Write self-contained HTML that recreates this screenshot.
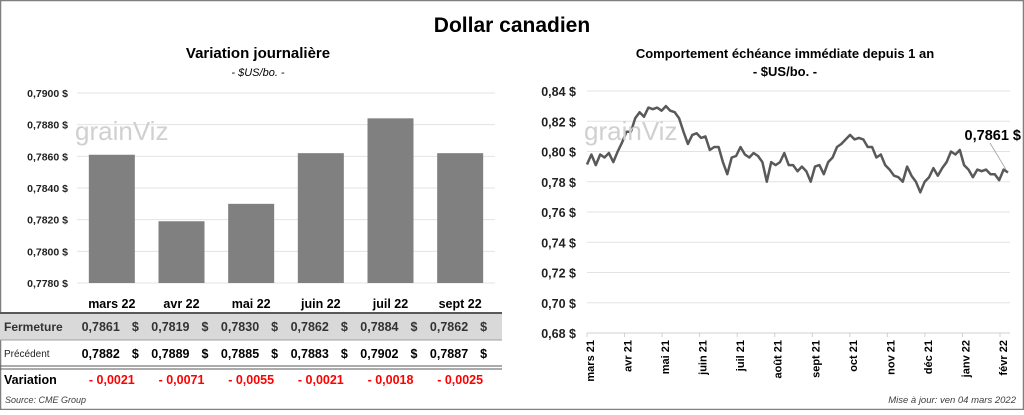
<!DOCTYPE html>
<html><head><meta charset="utf-8">
<style>
html,body{margin:0;padding:0;background:#fff;}
body{width:1024px;height:410px;overflow:hidden;font-family:"Liberation Sans",Arial,sans-serif;}
svg text{font-family:"Liberation Sans",Arial,sans-serif;}
</style></head>
<body>
<svg id="chart" width="1024" height="410" viewBox="0 0 1024 410" xmlns="http://www.w3.org/2000/svg">
<rect x="0.5" y="0.5" width="1023" height="409" fill="#fff" stroke="#7f7f7f" stroke-width="1.5"/>
<text x="512" y="32" text-anchor="middle" font-size="21" font-weight="bold" fill="#000">Dollar canadien</text>

<text x="258" y="58" text-anchor="middle" font-size="15" font-weight="bold">Variation  journalière</text>
<text x="258" y="76" text-anchor="middle" font-size="11" font-style="italic">- $US/bo. -</text>
<text x="785" y="58" text-anchor="middle" font-size="13" font-weight="bold">Comportement échéance immédiate depuis 1 an</text>
<text x="785" y="76" text-anchor="middle" font-size="13" font-weight="bold">- $US/bo. -</text>

<g id="bars"></g>
<g id="line"></g>

<text x="75" y="140" font-size="26" fill="#d0d0d0">grainViz</text>
<text x="584" y="140" font-size="26" fill="#d0d0d0">grainViz</text>

<g id="table"></g>

<text x="5" y="403" font-size="9" font-style="italic" fill="#404040">Source: CME Group</text>
<text x="1016" y="403" text-anchor="end" font-size="9.5" font-style="italic" fill="#404040">Mise à jour: ven 04 mars 2022</text>
</svg>
<script>
const barCategories=["mars 22","avr 22","mai 22","juin 22","juil 22","sept 22"];
const barValues=[0.7861,0.7819,0.7830,0.7862,0.7884,0.7862];
const barTicks=[0.7780,0.7800,0.7820,0.7840,0.7860,0.7880,0.7900];
const closeValues=["0,7861","0,7819","0,7830","0,7862","0,7884","0,7862"];
const prevValues=["0,7882","0,7889","0,7885","0,7883","0,7902","0,7887"];
const changeValues=["- 0,0021","- 0,0071","- 0,0055","- 0,0021","- 0,0018","- 0,0025"];
const lineMonths=["mars 21","avr 21","mai 21","juin 21","juil 21","août 21","sept 21","oct 21","nov 21","déc 21","janv 22","févr 22"];
const lineTicks=[0.68,0.70,0.72,0.74,0.76,0.78,0.80,0.82,0.84];
const lineValues=[0.7914,0.798,0.791,0.798,0.796,0.799,0.793,0.800,0.806,0.813,0.813,0.822,0.826,0.823,0.829,0.828,0.829,0.827,0.830,0.827,0.826,0.822,0.813,0.805,0.811,0.812,0.809,0.810,0.801,0.803,0.803,0.793,0.785,0.796,0.797,0.803,0.798,0.796,0.799,0.797,0.793,0.780,0.793,0.791,0.793,0.799,0.791,0.791,0.787,0.790,0.787,0.780,0.790,0.791,0.785,0.793,0.796,0.803,0.805,0.808,0.811,0.808,0.809,0.808,0.803,0.803,0.796,0.798,0.791,0.788,0.784,0.783,0.780,0.790,0.784,0.780,0.773,0.780,0.783,0.789,0.784,0.789,0.793,0.800,0.798,0.801,0.791,0.788,0.783,0.788,0.787,0.788,0.785,0.785,0.781,0.788,0.7861];
const lastLabel="0,7861 $";

const NS="http://www.w3.org/2000/svg";
function mk(tag,attrs,parent,txt){const e=document.createElementNS(NS,tag);for(const k in attrs)e.setAttribute(k,attrs[k]);if(txt!==undefined)e.textContent=txt;parent.appendChild(e);return e;}

// bar chart
const bg=document.getElementById('bars');
const bx0=77,bx1=495,byTop=93,byBot=283,bMin=0.7780,bMax=0.7900;
const by=v=>byBot-(v-bMin)/(bMax-bMin)*(byBot-byTop);
const bw=(bx1-bx0)/barCategories.length;
barTicks.forEach(t=>{
  const l=mk('line',{x1:bx0,x2:bx1,y1:by(t),y2:by(t),stroke:'#e3e3e3','stroke-width':1},bg);
  
  
  const tx=mk('text',{x:68,y:by(t)+4,'text-anchor':'end','font-size':10.5,'font-weight':'bold',fill:'#222'},bg,t.toFixed(4).replace('.',',')+' $');
  
  
});
barValues.forEach((v,i)=>{
  const cx=bx0+bw*(i+0.5);
  const r=mk('rect',{x:cx-23,y:by(v),width:46,height:byBot-by(v),fill:'#808080'},bg);
  
  
  const t=mk('text',{x:cx,y:308,'text-anchor':'middle','font-size':12.5,'font-weight':'bold'},bg,barCategories[i]);
  
  
});

// table
const tg=document.getElementById('table');
const bgRow=mk('rect',{x:0,y:314,width:502,height:26,fill:'#d9d9d9'},tg);


[[313,2],[366,1],[369,1]].forEach(([y,w])=>{
  const l=mk('line',{x1:0,x2:502,y1:y,y2:y,stroke:'#595959','stroke-width':w},tg);
  
  
});
const l2=mk('line',{x1:0,x2:502,y1:340,y2:340,stroke:'#a0a0a0','stroke-width':1},tg);


const rh=[["Fermeture",331,12,'bold','#333'],["Précédent",357,10,'normal','#222'],["Variation",384,12.5,'bold','#000']];
rh.forEach(r=>{const t=mk('text',{x:4,y:r[1],'font-size':r[2],'font-weight':r[3],fill:r[4]},tg,r[0]);
  
  });
barCategories.forEach((c,i)=>{
  const cx=bx0+bw*(i+0.5);
  const a=mk('text',{x:cx+8,y:331,'text-anchor':'end','font-size':12.5,'font-weight':'bold',fill:'#333'},tg,closeValues[i]);
  
  
  const a2=mk('text',{x:cx+20,y:331,'font-size':12.5,'font-weight':'bold',fill:'#333'},tg,'$');
  
  
  const b=mk('text',{x:cx+8,y:358,'text-anchor':'end','font-size':12.5,'font-weight':'bold',fill:'#000'},tg,prevValues[i]);
  
  
  const b2=mk('text',{x:cx+20,y:358,'font-size':12.5,'font-weight':'bold',fill:'#000'},tg,'$');
  
  
  const d=mk('text',{x:cx,y:384,'text-anchor':'middle','font-size':12.5,'font-weight':'bold',fill:'#ff0000'},tg,changeValues[i]);
  
  
});

// line chart
const lg=document.getElementById('line');
const lx0=587,lx1=1008,lyTop=91,lyBot=333,lMin=0.68,lMax=0.84;
const ly=v=>lyBot-(v-lMin)/(lMax-lMin)*(lyBot-lyTop);
const lx=i=>lx0+i/(lineValues.length-1)*(lx1-lx0);
lineTicks.forEach(t=>{
  if(t>lMin){const l=mk('line',{x1:lx0,x2:1010,y1:ly(t),y2:ly(t),stroke:'#e3e3e3','stroke-width':1},lg);
  
  }
  const tx=mk('text',{x:576,y:ly(t)+5,'text-anchor':'end','font-size':12.5,'font-weight':'bold',fill:'#222'},lg,t.toFixed(2).replace('.',',')+' $');
  
  
});
const ax=mk('line',{x1:lx0,x2:1010,y1:lyBot,y2:lyBot,stroke:'#d0d0d0','stroke-width':1},lg);


const mStep=(1000-587)/(lineMonths.length-1);
lineMonths.forEach((m,i)=>{
  const x=587+i*mStep;
  const tk=mk('line',{x1:x,x2:x,y1:lyBot,y2:lyBot+4,stroke:'#d0d0d0'},lg);
  
  
  const t=mk('text',{x:0,y:0,'text-anchor':'end','font-size':11,'font-weight':'bold',transform:`translate(${x+7},${lyBot+7}) rotate(-90)`},lg,m);
  
  
});
const pts=lineValues.map((v,i)=>lx(i).toFixed(1)+','+ly(v).toFixed(1)).join(' ');
const pl=mk('polyline',{points:pts,fill:'none',stroke:'#595959','stroke-width':2.5,'stroke-linejoin':'round'},lg);


const lastX=lx(lineValues.length-1),lastY=ly(lineValues[lineValues.length-1]);
const ld=mk('line',{x1:990,y1:143,x2:lastX-2,y2:lastY-3,stroke:'#a0a0a0','stroke-width':0.8},lg);


const lbl=mk('text',{x:1021,y:140,'text-anchor':'end','font-size':14.5,'font-weight':'bold'},lg,lastLabel);


</script>
</body></html>
